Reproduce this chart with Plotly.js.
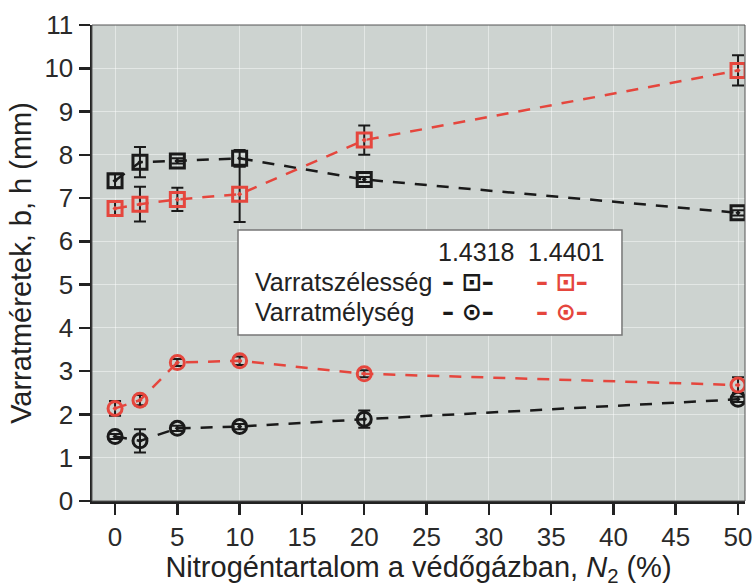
<!DOCTYPE html>
<html>
<head>
<meta charset="utf-8">
<script src="https://cdn.plot.ly/plotly-3.0.1.min.js"></script>
<style>html,body{margin:0;padding:0;background:#fff;}#chart{width:755px;height:587px;}</style>
</head>
<body>
<div id="chart"></div>
<script>
// Nitrogen content in shielding gas, N2 (%)
const nitrogen = [0, 2, 5, 10, 20, 50];

// Varratszélesség (weld width), mm
const width_14318 = [7.40, 7.83, 7.86, 7.92, 7.43, 6.66];
const widthErr_14318 = [0.15, 0.35, 0.06, 0.19, 0.06, 0.06];
const width_14401 = [6.76, 6.86, 6.97, 7.09, 8.34, 9.95];
const widthErr_14401 = [0.17, 0.40, 0.27, 0.64, 0.34, 0.35];

// Varratmélység (weld depth), mm
const depth_14318 = [1.49, 1.39, 1.68, 1.72, 1.89, 2.35];
const depthErr_14318 = [0.06, 0.27, 0.06, 0.06, 0.20, 0.06];
const depth_14401 = [2.14, 2.33, 3.20, 3.24, 2.94, 2.68];
const depthErr_14401 = [0.17, 0.12, 0.08, 0.10, 0.08, 0.18];

const xTicks = [0, 5, 10, 15, 20, 25, 30, 35, 40, 45, 50];
const yTicks = [0, 1, 2, 3, 4, 5, 6, 7, 8, 9, 10, 11];

const grades = ['1.4318', '1.4401'];
const seriesNames = ['Varratszélesség', 'Varratmélység'];

const BLACK = '#1a1a1a';
const RED = '#e5463d';
const FONT = 'Liberation Sans, Arial, sans-serif';

function trace(y, err, color, symbol, name) {
  return {
    x: nitrogen, y: y, name: name, type: 'scatter', mode: 'lines+markers',
    showlegend: false,
    line: {color: color, width: 2.5, dash: '12px,10px'},
    marker: {symbol: symbol, size: 14, color: color, line: {color: color, width: 3}},
    error_y: {type: 'data', array: err, visible: true, color: BLACK, thickness: 2, width: 6}
  };
}

const data = [
  trace(width_14318, widthErr_14318, BLACK, 'square-open-dot', seriesNames[0] + ' ' + grades[0]),
  trace(width_14401, widthErr_14401, RED, 'square-open-dot', seriesNames[0] + ' ' + grades[1]),
  trace(depth_14318, depthErr_14318, BLACK, 'circle-open-dot', seriesNames[1] + ' ' + grades[0]),
  trace(depth_14401, depthErr_14401, RED, 'circle-open-dot', seriesNames[1] + ' ' + grades[1])
];

const legFont = {family: FONT, size: 25, color: '#222'};
const symFont = (c) => ({family: 'DejaVu Sans', size: 24, color: c});
const annotations = [
  {xref: 'paper', yref: 'paper', x: 0.588, y: 0.523, text: grades[0], showarrow: false, font: legFont, xanchor: 'center', yanchor: 'middle'},
  {xref: 'paper', yref: 'paper', x: 0.726, y: 0.523, text: grades[1], showarrow: false, font: legFont, xanchor: 'center', yanchor: 'middle'},
  {xref: 'paper', yref: 'paper', x: 0.2466, y: 0.460, text: seriesNames[0], showarrow: false, font: legFont, xanchor: 'left', yanchor: 'middle'},
  {xref: 'paper', yref: 'paper', x: 0.2466, y: 0.397, text: seriesNames[1], showarrow: false, font: legFont, xanchor: 'left', yanchor: 'middle'},
  {xref: 'paper', yref: 'paper', x: 0.576, y: 0.460, text: '<b>–</b> <b>⊡</b><b>–</b>', showarrow: false, font: symFont(BLACK), xanchor: 'center', yanchor: 'middle'},
  {xref: 'paper', yref: 'paper', x: 0.720, y: 0.460, text: '<b>–</b> <b>⊡</b><b>–</b>', showarrow: false, font: symFont(RED), xanchor: 'center', yanchor: 'middle'},
  {xref: 'paper', yref: 'paper', x: 0.576, y: 0.397, text: '<b>–</b> <b>⊙</b><b>–</b>', showarrow: false, font: symFont(BLACK), xanchor: 'center', yanchor: 'middle'},
  {xref: 'paper', yref: 'paper', x: 0.720, y: 0.397, text: '<b>–</b> <b>⊙</b><b>–</b>', showarrow: false, font: symFont(RED), xanchor: 'center', yanchor: 'middle'}
];

const layout = {
  width: 755, height: 587,
  margin: {l: 92, r: 10, t: 25, b: 86},
  paper_bgcolor: '#ffffff',
  plot_bgcolor: '#cdd3d0',
  font: {family: FONT, size: 26, color: '#222'},
  xaxis: {
    range: [-1.85, 50.56], tickvals: xTicks, ticktext: xTicks.map(String),
    showline: true, linecolor: '#222', linewidth: 2.5,
    ticks: 'outside', ticklen: 11, tickwidth: 2.5, tickcolor: '#222',
    showgrid: true, gridcolor: 'rgba(255,255,255,0.45)', gridwidth: 1,
    zeroline: false,
    tickfont: {family: FONT, size: 26, color: '#2a2a2a'},
    title: {text: 'Nitrogéntartalom a védőgázban, <i>N</i><sub>2</sub> (%)', font: {family: FONT, size: 29, color: '#222'}, standoff: 6}
  },
  yaxis: {
    range: [0, 11], tickvals: yTicks, ticktext: yTicks.map(String),
    showline: true, linecolor: '#222', linewidth: 2.5,
    ticks: 'outside', ticklen: 11, tickwidth: 2.5, tickcolor: '#222',
    showgrid: true, gridcolor: 'rgba(255,255,255,0.45)', gridwidth: 1,
    zeroline: false,
    tickfont: {family: FONT, size: 26, color: '#2a2a2a'},
    title: {text: 'Varratméretek, b, h (mm)', font: {family: FONT, size: 29, color: '#222'}, standoff: 4}
  },
  shapes: [
    {type: 'rect', xref: 'paper', yref: 'paper', x0: 0, x1: 1, y0: 0, y1: 1, line: {color: '#555', width: 1}, layer: 'above'},
    {type: 'rect', xref: 'paper', yref: 'paper', x0: 0.2236, x1: 0.8116, y0: 0.3487, y1: 0.5693, fillcolor: '#ffffff', line: {color: '#777', width: 1.5}, layer: 'above'}
  ],
  annotations: annotations
};

Plotly.newPlot('chart', data, layout, {displayModeBar: false, staticPlot: true});
</script>
</body>
</html>
